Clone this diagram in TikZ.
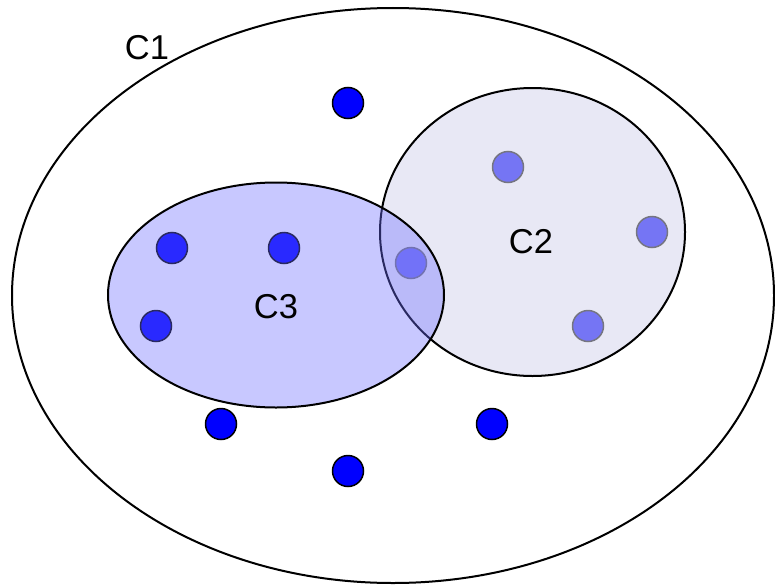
\documentclass[tikz,border=0pt]{standalone}
\usepackage{fontspec}
\setmainfont{Liberation Sans}
\begin{document}
\begin{tikzpicture}[x=1pt,y=-1pt,
  setline/.style={draw=black,line width=2pt},
  dot/.style={circle,draw=black,line width=1.5pt,fill=blue,minimum size=31pt,inner sep=0pt},
  lbl/.style={font=\fontsize{34.5}{40}\selectfont,inner sep=0pt}]
\useasboundingbox (0,0) rectangle (775,586);
% C1
\draw[setline] (393,295.5) ellipse [x radius=381, y radius=287.5];
% dots
\node[dot] (d1) at (348,103) {};
\node[dot] (d2) at (172,248) {};
\node[dot] (d3) at (284,248) {};
\node[dot] (d4) at (156,326) {};
\node[dot] (d5) at (411,263) {};
\node[dot] (d6) at (508,167) {};
\node[dot] (d7) at (652,232) {};
\node[dot] (d8) at (588,326) {};
\node[dot] (d9) at (221,424) {};
\node[dot] (d10) at (492,424) {};
\node[dot] (d11) at (348,471) {};
% C2
\definecolor{ctwo}{RGB}{214,214,236}
\definecolor{cthree}{RGB}{110,110,255}
\fill[ctwo,opacity=0.55] (532.5,232) ellipse [x radius=152.5, y radius=144];
\draw[setline] (532.5,232) ellipse [x radius=152.5, y radius=144];
% C3
\fill[cthree,opacity=0.38] (276,295) ellipse [x radius=168, y radius=112.5];
\draw[setline] (276,295) ellipse [x radius=168, y radius=112.5];
% labels
\node[lbl] (c1) at (147,48) {C1};
\node[lbl] (c2) at (531,242) {C2};
\node[lbl] (c3) at (276,307) {C3};
\end{tikzpicture}
\end{document}
